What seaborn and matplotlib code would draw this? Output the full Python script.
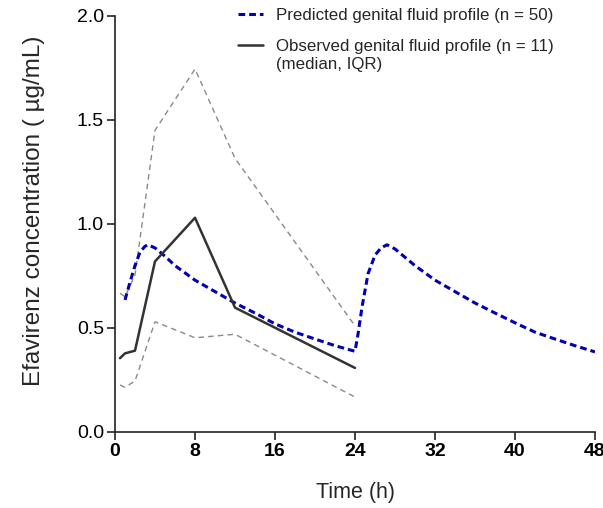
import numpy as np
import pandas as pd
import matplotlib
matplotlib.use("Agg")
import matplotlib.pyplot as plt
import seaborn as sns

# ---- data ----
pred_time = [1, 1.5, 2, 2.5, 3, 3.3, 4, 5, 6, 8, 10, 12, 14, 16, 18, 20, 22, 24,
             24.3, 24.7, 25.3, 26, 26.6, 27.2, 28, 29, 30, 32, 34, 36, 38, 40, 42, 44, 46, 48]
pred_conc = [0.635, 0.72, 0.80, 0.865, 0.893, 0.90, 0.885, 0.845, 0.80, 0.73, 0.675, 0.62,
             0.572, 0.52, 0.48, 0.447, 0.415, 0.388,
             0.47, 0.60, 0.76, 0.85, 0.885, 0.90, 0.88, 0.84, 0.80, 0.73, 0.675, 0.62,
             0.572, 0.525, 0.48, 0.447, 0.415, 0.385]

obs_time = [0.5, 1, 2, 4, 8, 12, 24]
obs_median = [0.355, 0.378, 0.391, 0.82, 1.03, 0.598, 0.308]
obs_q1 = [0.226, 0.215, 0.245, 0.53, 0.453, 0.47, 0.168]
obs_q3 = [0.667, 0.65, 0.755, 1.45, 1.745, 1.316, 0.51]

x_ticks = [0, 8, 16, 24, 32, 40, 48]
y_ticks = [0.0, 0.5, 1.0, 1.5, 2.0]

label_pred = "Predicted genital fluid profile (n = 50)"
label_obs = "Observed genital fluid profile (n = 11)"
label_obs2 = "(median, IQR)"

# ---- style ----
sns.set_style("ticks")
plt.rcParams["font.family"] = ["Liberation Sans", "DejaVu Sans"]

fig = plt.figure(figsize=(6.03, 5.08), dpi=100)
ax = fig.add_axes([115 / 603, (508 - 432) / 508, 480 / 603, 416 / 508])

pred_df = pd.DataFrame({"t": pred_time, "c": pred_conc})
obs_df = pd.DataFrame({"t": obs_time, "med": obs_median, "q1": obs_q1, "q3": obs_q3})

sns.lineplot(data=obs_df, x="t", y="q3", ax=ax, color="#8a8a8a", lw=1.0,
             linestyle=(0, (4, 3)), label="_q3")
sns.lineplot(data=obs_df, x="t", y="q1", ax=ax, color="#8a8a8a", lw=1.0,
             linestyle=(0, (4, 3)), label="_q1")
sns.lineplot(data=pred_df, x="t", y="c", ax=ax, color="#0000b0", lw=2.2,
             linestyle=(0, (2.2, 1.3)), label=label_pred)
sns.lineplot(data=obs_df, x="t", y="med", ax=ax, color="#333333", lw=1.8,
             label=label_obs)

ax.set_xlim(0, 48)
ax.set_ylim(0, 2.0)
ax.set_xticks(x_ticks)
ax.set_xticklabels([str(v) for v in x_ticks], fontweight="bold", fontsize=14)
ax.set_yticks(y_ticks)
ax.set_yticklabels([f"{v:.1f}" for v in y_ticks], fontsize=14)
ax.tick_params(axis="both", direction="out", length=6, width=1.2, color="#222222",
               pad=2, labelcolor="black")
for side in ["top", "right"]:
    ax.spines[side].set_visible(False)
for side in ["left", "bottom"]:
    ax.spines[side].set_linewidth(1.2)
    ax.spines[side].set_color("#222222")

ax.set_xlabel("Time (h)", fontsize=15.5, labelpad=16)
ax.set_ylabel("Efavirenz concentration ( µg/mL)", fontsize=17.5)
ax.yaxis.set_label_coords(-0.145, 0.531)

leg = ax.legend(loc="upper left", bbox_to_anchor=(238 / 603, (508 - 8) / 508),
                bbox_transform=fig.transFigure, frameon=False, fontsize=12.2,
                borderpad=0, borderaxespad=0, handlelength=1.45, handletextpad=0.8,
                labelspacing=0.95)

fig.canvas.draw()
tb = leg.get_texts()[1].get_window_extent()
fig.text(tb.x0 / fig.bbox.width, (tb.y0 - 18) / fig.bbox.height, label_obs2,
         fontsize=12.2, ha="left", va="bottom")

fig.savefig("out.png", dpi=100)
